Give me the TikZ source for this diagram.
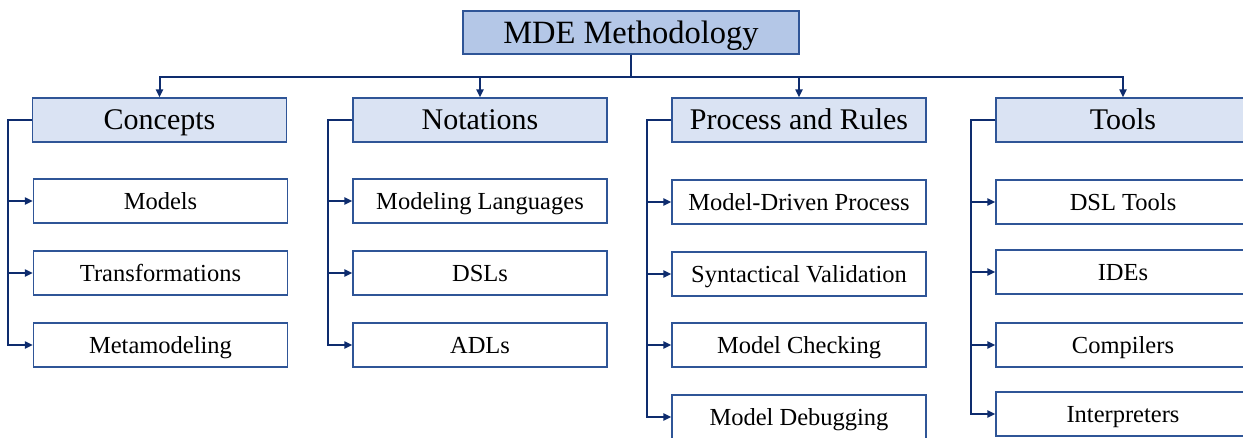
\documentclass[tikz,border=0pt]{standalone}
\usepackage{fontspec}
\setmainfont{Liberation Serif}
\usetikzlibrary{arrows.meta}
\definecolor{linkblue}{HTML}{0E2C6E}
\definecolor{edgeblue}{HTML}{2F5597}
\definecolor{topfill}{HTML}{B4C7E7}
\definecolor{catfill}{HTML}{DAE3F3}
\tikzset{
  basebox/.style={draw=edgeblue, line width=1.3pt, inner sep=0pt, anchor=center,
    minimum width=254pt, minimum height=44pt, text depth=0pt},
  topbox/.style={basebox, fill=topfill, minimum width=336pt, minimum height=43pt,
    text height=21.5pt, font=\fontsize{32.5}{38}\selectfont},
  catbox/.style={basebox, fill=catfill, text height=19.9pt,
    font=\fontsize{30}{36}\selectfont},
  itembox/.style={basebox, fill=white, text height=16.2pt,
    font=\fontsize{24.5}{29}\selectfont},
  link/.style={draw=linkblue, line width=2pt,
    -{Triangle[length=8pt,width=7pt]}}
}
\begin{document}
\begin{tikzpicture}[x=1pt,y=-1pt]
\useasboundingbox (0,0) rectangle (1243,437);
\clip (0,0) rectangle (1243,437);

% root
\node[topbox] (mde) at (631,32.5) {MDE Methodology};

% categories
\node[catbox] (cat1) at (159.5,120) {Concepts};
\node[catbox] (cat2) at (480,120) {Notations};
\node[catbox] (cat3) at (799,120) {Process and Rules};
\node[catbox] (cat4) at (1123,120) {Tools};

% Concepts
\node[itembox] (c1) at (160.5,201) {Models};
\node[itembox] (c2) at (160.5,273) {Transformations};
\node[itembox] (c3) at (160.5,345) {Metamodeling};

% Notations
\node[itembox] (n1) at (480,201) {Modeling Languages};
\node[itembox] (n2) at (480,273) {DSLs};
\node[itembox] (n3) at (480,345) {ADLs};

% Process and Rules
\node[itembox] (p1) at (799,202) {Model-Driven Process};
\node[itembox] (p2) at (799,274) {Syntactical Validation};
\node[itembox] (p3) at (799,345) {Model Checking};
\node[itembox] (p4) at (799,417) {Model Debugging};

% Tools
\node[itembox] (t1) at (1123,202) {DSL Tools};
\node[itembox] (t2) at (1123,272) {IDEs};
\node[itembox] (t3) at (1123,345) {Compilers};
\node[itembox] (t4) at (1123,414) {Interpreters};

% root to categories
\foreach \c in {cat1,cat2,cat3,cat4}
  \draw[link] (mde.south) -- ++(0,22) -| (\c.north);

% categories to items
\foreach \c/\i in {cat1/c1,cat1/c2,cat1/c3,
                   cat2/n1,cat2/n2,cat2/n3,
                   cat3/p1,cat3/p2,cat3/p3,cat3/p4,
                   cat4/t1,cat4/t2,cat4/t3,cat4/t4}
  \draw[link] (\c.west) -- ++(-24,0) |- (\i.west);
\end{tikzpicture}
\end{document}
